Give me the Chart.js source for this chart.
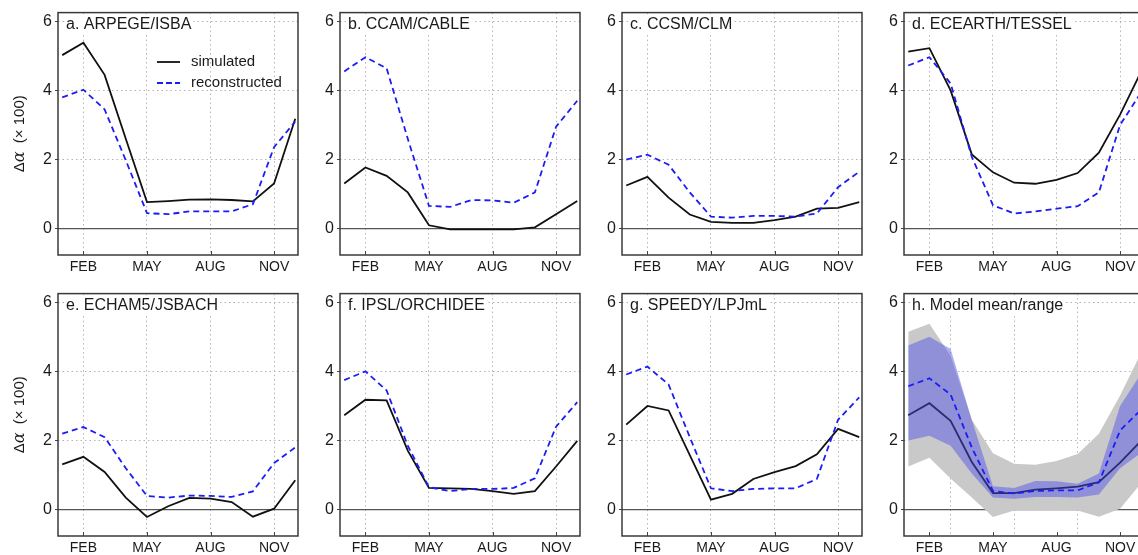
<!DOCTYPE html>
<html lang="en">
<head>
    <meta charset="UTF-8">
    <title>Albedo change - simulated vs reconstructed</title>
    <script src="https://cdn.jsdelivr.net/npm/chart.js"></script>
    <style>
        body {
            margin: 0;
            width: 1138px;
            height: 555px;
            overflow: hidden;
            position: relative;
            background: white;
            font-family: 'Liberation Sans', Arial, sans-serif;
        }
        canvas {
            position: absolute;
        }
    </style>
</head>
<body>
    <canvas id="p0" width="300" height="281" style="left:0px; top:0px;"></canvas>
    <canvas id="p1" width="300" height="281" style="left:282px; top:0px;"></canvas>
    <canvas id="p2" width="300" height="281" style="left:564px; top:0px;"></canvas>
    <canvas id="p3" width="300" height="281" style="left:846px; top:0px;"></canvas>
    <canvas id="p4" width="300" height="281" style="left:0px; top:281px;"></canvas>
    <canvas id="p5" width="300" height="281" style="left:282px; top:281px;"></canvas>
    <canvas id="p6" width="300" height="281" style="left:564px; top:281px;"></canvas>
    <canvas id="p7" width="300" height="281" style="left:846px; top:281px;"></canvas>

    <script>
        // months Jan..Dec
        const months = [1, 2, 3, 4, 5, 6, 7, 8, 9, 10, 11, 12];
        const tickMonths = [2, 5, 8, 11];
        const tickLabels = ['FEB', 'MAY', 'AUG', 'NOV'];
        const yTicks = [0, 2, 4, 6];

        // Δα (x100), simulated and reconstructed, per model
        const simA = [5.02, 5.38, 4.45, 2.6, 0.77, 0.8, 0.84, 0.85, 0.83, 0.79, 1.31, 3.18];
        const recA = [3.8, 4.02, 3.45, 1.98, 0.45, 0.42, 0.5, 0.5, 0.5, 0.71, 2.36, 3.1];
        const simB = [1.31, 1.77, 1.53, 1.05, 0.1, -0.02, -0.02, -0.02, -0.02, 0.04, 0.42, 0.8];
        const recB = [4.55, 4.96, 4.64, 2.6, 0.66, 0.63, 0.83, 0.82, 0.75, 1.05, 2.95, 3.7];
        const simC = [1.25, 1.5, 0.9, 0.41, 0.2, 0.17, 0.17, 0.25, 0.35, 0.58, 0.6, 0.77];
        const recC = [2.0, 2.14, 1.85, 1.05, 0.35, 0.32, 0.37, 0.37, 0.35, 0.44, 1.2, 1.65];
        const simD = [5.12, 5.22, 4.0, 2.15, 1.63, 1.33, 1.3, 1.41, 1.61, 2.2, 3.3, 4.55];
        const recD = [4.72, 4.96, 4.2, 2.08, 0.68, 0.44, 0.5, 0.58, 0.65, 1.05, 3.0, 3.95];
        const simE = [1.31, 1.53, 1.09, 0.35, -0.21, 0.1, 0.34, 0.32, 0.22, -0.2, 0.03, 0.85];
        const recE = [2.2, 2.39, 2.1, 1.2, 0.4, 0.35, 0.41, 0.4, 0.37, 0.53, 1.35, 1.8];
        const simF = [2.73, 3.18, 3.16, 1.71, 0.63, 0.62, 0.6, 0.54, 0.46, 0.54, 1.25, 1.99];
        const recF = [3.75, 4.0, 3.45, 1.85, 0.65, 0.54, 0.6, 0.6, 0.63, 0.91, 2.4, 3.11];
        const simG = [2.46, 3.0, 2.87, 1.58, 0.29, 0.46, 0.89, 1.09, 1.26, 1.6, 2.34, 2.1];
        const recG = [3.91, 4.14, 3.62, 2.1, 0.62, 0.54, 0.6, 0.62, 0.62, 0.89, 2.6, 3.25];

        // model mean / range (panel h)
        const simMean = [2.73, 3.08, 2.57, 1.38, 0.48, 0.48, 0.58, 0.62, 0.67, 0.8, 1.36, 2.0];
        const recMean = [3.57, 3.8, 3.33, 1.8, 0.54, 0.47, 0.54, 0.56, 0.56, 0.79, 2.29, 2.9];
        const simMax = [5.15, 5.38, 4.45, 2.6, 1.63, 1.33, 1.3, 1.41, 1.61, 2.2, 3.3, 4.55];
        const simMin = [1.25, 1.5, 0.9, 0.35, -0.21, -0.02, -0.02, -0.02, -0.02, -0.2, 0.03, 0.77];
        const recMax = [4.75, 5.0, 4.65, 2.6, 0.68, 0.63, 0.83, 0.82, 0.75, 1.05, 3.0, 3.95];
        const recMin = [2.0, 2.14, 1.85, 1.05, 0.35, 0.32, 0.37, 0.37, 0.35, 0.44, 1.2, 1.65];

        const panelTitles = ['a. ARPEGE/ISBA', 'b. CCAM/CABLE', 'c. CCSM/CLM', 'd. ECEARTH/TESSEL',
                             'e. ECHAM5/JSBACH', 'f. IPSL/ORCHIDEE', 'g. SPEEDY/LPJmL', 'h. Model mean/range'];
        const simSeries = [simA, simB, simC, simD, simE, simF, simG];
        const recSeries = [recA, recB, recC, recD, recE, recF, recG];

        const BLUE = '#1c1cf5';
        const TEXT = '#1a1a1a';
        const GRID = '#b4b4b4';
        const FONT = "'Liberation Sans', Arial, sans-serif";

        function pts(values) {
            return months.map((m, i) => ({ x: m, y: values[i] }));
        }

        // frame, zero line, small inner ticks, panel title, y title and legend
        const decorations = {
            id: 'decorations',
            beforeDatasetsDraw(chart) {
                const { ctx, chartArea, scales } = chart;
                const y0 = scales.y.getPixelForValue(0);
                ctx.save();
                ctx.strokeStyle = '#555';
                ctx.lineWidth = 1.2;
                ctx.beginPath();
                ctx.moveTo(chartArea.left, y0);
                ctx.lineTo(chartArea.right, y0);
                ctx.stroke();
                ctx.lineWidth = 1;
                ctx.strokeStyle = '#444';
                tickMonths.forEach(m => {
                    const x = Math.round(scales.x.getPixelForValue(m)) + 0.5;
                    ctx.beginPath();
                    ctx.moveTo(x, chartArea.bottom);
                    ctx.lineTo(x, chartArea.bottom - 4);
                    ctx.stroke();
                });
                ctx.restore();
            },
            afterDatasetsDraw(chart, args, opts) {
                const { ctx, chartArea } = chart;
                ctx.save();

                // panel title with white box
                ctx.font = '16px ' + FONT;
                const tw = ctx.measureText(opts.title).width;
                const tx = chartArea.left + 8;
                const ty = chartArea.top + 12;
                ctx.fillStyle = 'white';
                ctx.fillRect(tx - 2, ty - 9, tw + 4, 18);
                ctx.fillStyle = TEXT;
                ctx.textBaseline = 'middle';
                ctx.fillText(opts.title, tx, ty);

                if (opts.legend) {
                    ctx.lineWidth = 1.8;
                    ctx.strokeStyle = '#111';
                    ctx.beginPath();
                    ctx.moveTo(157, 62);
                    ctx.lineTo(180, 62);
                    ctx.stroke();
                    ctx.strokeStyle = BLUE;
                    ctx.setLineDash([6, 3]);
                    ctx.beginPath();
                    ctx.moveTo(157, 83);
                    ctx.lineTo(180, 83);
                    ctx.stroke();
                    ctx.setLineDash([]);
                    ctx.font = '15px ' + FONT;
                    ctx.fillStyle = TEXT;
                    ctx.fillText('simulated', 191, 62);
                    ctx.fillText('reconstructed', 191, 83);
                }

                if (opts.yTitle) {
                    const parts = [
                        { t: 'Δ', f: '15px ' + FONT },
                        { t: 'α', f: "italic 16px 'DejaVu Serif', serif" },
                        { t: '  (× 100)', f: '15px ' + FONT }
                    ];
                    let total = 0;
                    parts.forEach(p => { ctx.font = p.f; p.w = ctx.measureText(p.t).width; total += p.w; });
                    ctx.translate(20, (chartArea.top + chartArea.bottom) / 2);
                    ctx.rotate(-Math.PI / 2);
                    let x = -total / 2;
                    ctx.fillStyle = TEXT;
                    ctx.textBaseline = 'middle';
                    parts.forEach(p => { ctx.font = p.f; ctx.fillText(p.t, x, 0); x += p.w; });
                }
                ctx.restore();
            },
            afterDraw(chart) {
                const { ctx, chartArea } = chart;
                ctx.save();
                ctx.strokeStyle = '#3a3a3a';
                ctx.lineWidth = 1.5;
                ctx.strokeRect(chartArea.left, chartArea.top,
                               chartArea.right - chartArea.left, chartArea.bottom - chartArea.top);
                ctx.restore();
            }
        };

        function makeDatasets(idx) {
            if (idx < 7) {
                return [
                    { data: pts(recSeries[idx]), borderColor: BLUE, borderWidth: 1.8, borderDash: [6, 4], order: 1 },
                    { data: pts(simSeries[idx]), borderColor: '#111', borderWidth: 1.8, order: 2 }
                ];
            }
            return [
                { data: pts(simMax), borderWidth: 0, backgroundColor: 'rgb(201,201,201)', fill: '+1', order: 5 },
                { data: pts(simMin), borderWidth: 0, order: 5 },
                { data: pts(simMean), borderColor: '#111', borderWidth: 1.8, order: 4 },
                { data: pts(recMax), borderWidth: 0, backgroundColor: 'rgba(75,75,235,0.45)', fill: '+1', order: 3 },
                { data: pts(recMin), borderWidth: 0, order: 3 },
                { data: pts(recMean), borderColor: BLUE, borderWidth: 1.8, borderDash: [6, 4], order: 1 }
            ];
        }

        function makeChart(idx) {
            const gridMonths = idx === 7 ? [3, 6, 9, 12] : tickMonths;
            new Chart(document.getElementById('p' + idx), {
                type: 'line',
                data: { datasets: makeDatasets(idx) },
                options: {
                    responsive: false,
                    animation: false,
                    layout: { padding: { top: 12, right: 2, left: 0, bottom: 0 } },
                    elements: {
                        point: { radius: 0 },
                        line: { tension: 0, fill: false }
                    },
                    plugins: {
                        legend: { display: false },
                        tooltip: { enabled: false },
                        decorations: { title: panelTitles[idx], legend: idx === 0, yTitle: idx % 4 === 0 }
                    },
                    scales: {
                        x: {
                            type: 'linear',
                            min: 0.8,
                            max: 12.13,
                            afterBuildTicks: s => { s.ticks = tickMonths.map(v => ({ value: v })); },
                            afterFit: s => { s.height = 26; },
                            ticks: {
                                autoSkip: false,
                                maxRotation: 0,
                                padding: 4,
                                color: TEXT,
                                font: { size: 14, family: FONT },
                                callback: v => tickLabels[tickMonths.indexOf(v)]
                            },
                            grid: { display: false, drawTicks: false },
                            border: { display: false }
                        },
                        xg: {
                            type: 'linear',
                            position: 'bottom',
                            min: 0.8,
                            max: 12.13,
                            afterBuildTicks: s => { s.ticks = gridMonths.map(v => ({ value: v })); },
                            afterFit: s => { s.height = 0; },
                            ticks: { display: false },
                            grid: { color: GRID, lineWidth: 1, drawTicks: false },
                            border: { display: false, dash: [1.5, 3] }
                        },
                        y: {
                            min: -0.76,
                            max: 6.25,
                            afterBuildTicks: s => { s.ticks = yTicks.map(v => ({ value: v })); },
                            afterFit: s => { s.width = 58; },
                            ticks: {
                                padding: 3,
                                color: TEXT,
                                font: { size: 16, family: FONT }
                            },
                            grid: {
                                color: ctx => ctx.tick && ctx.tick.value === 0 ? 'rgba(0,0,0,0)' : GRID,
                                lineWidth: 1,
                                tickLength: 3,
                                tickColor: '#444',
                                tickBorderDash: []
                            },
                            border: { display: false, dash: [1.5, 3] }
                        }
                    }
                },
                plugins: [decorations]
            });
        }

        for (let i = 0; i < 8; i++) {
            makeChart(i);
        }
    </script>
</body>
</html>
